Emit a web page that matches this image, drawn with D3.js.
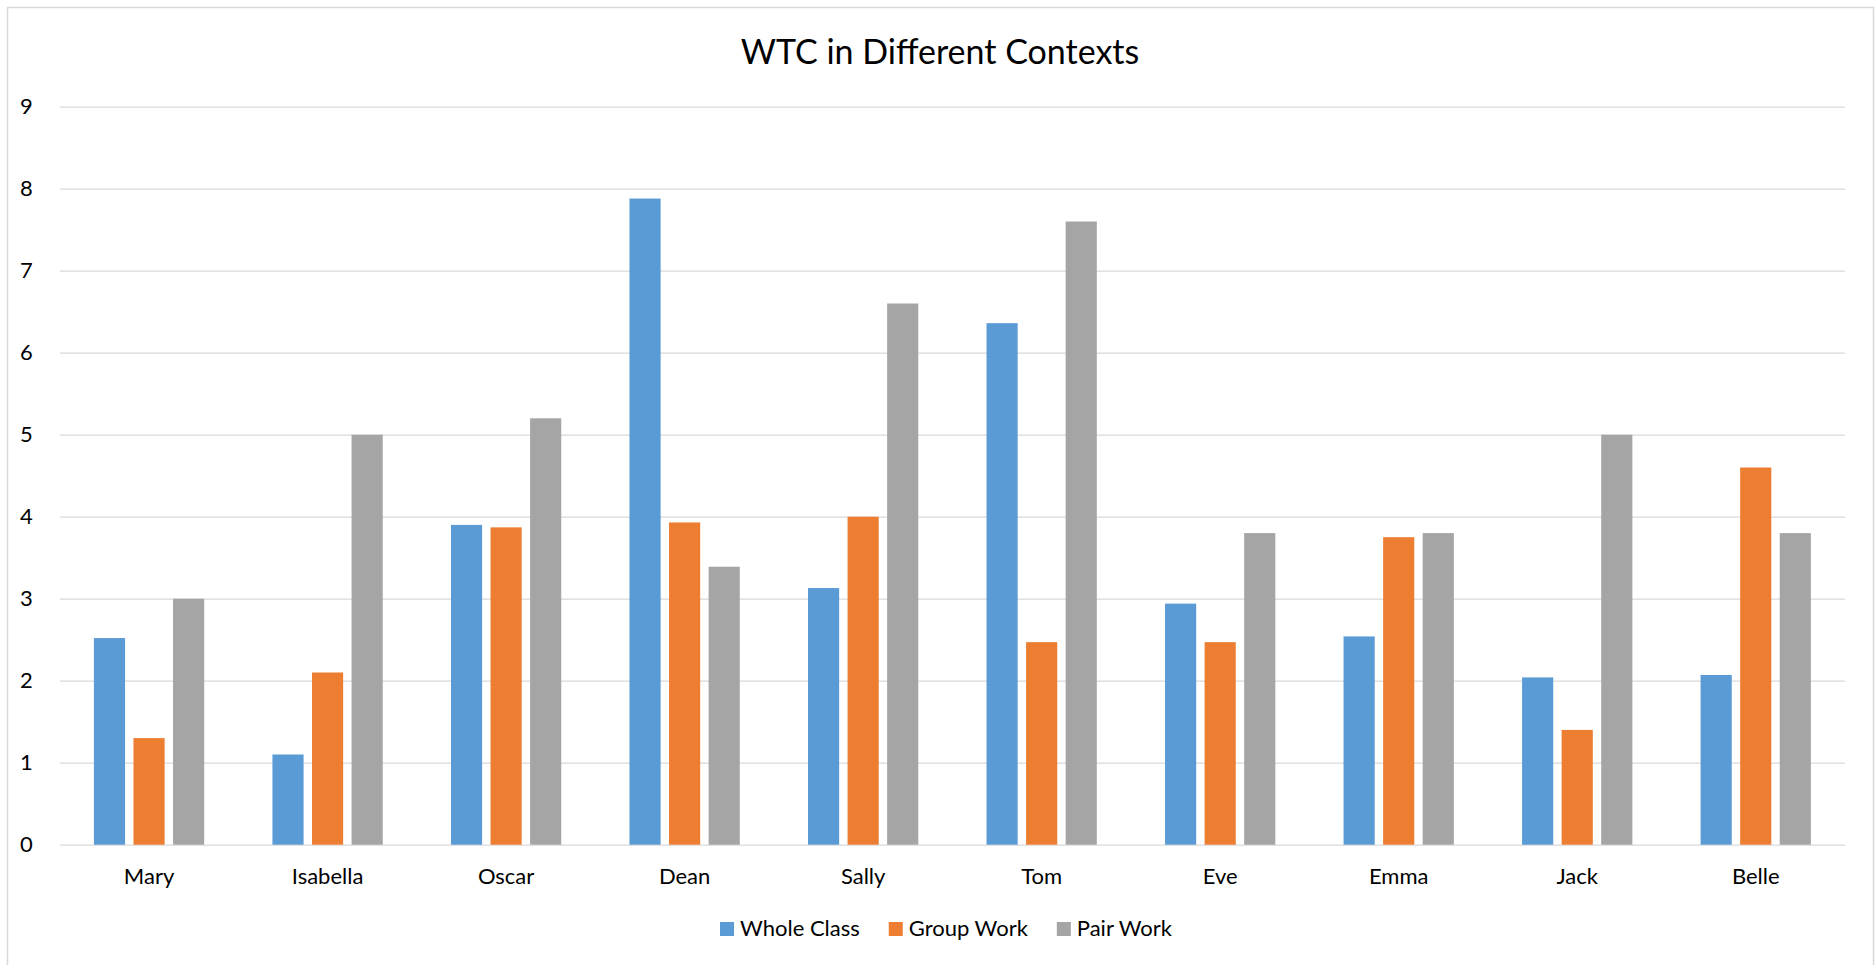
<!DOCTYPE html>
<html>
<head>
<meta charset="utf-8">
<script src="https://cdn.jsdelivr.net/npm/d3@7"></script>
<style>
  html, body { margin: 0; padding: 0; background: #fff; }
  svg { display: block; font-family: Lato, "Open Sans", sans-serif; }
</style>
</head>
<body>
<svg id="chart" width="1876" height="965"></svg>
<script>
// Students and the three participation contexts
const students = ["Mary", "Isabella", "Oscar", "Dean", "Sally", "Tom", "Eve", "Emma", "Jack", "Belle"];
const seriesNames = ["Whole Class", "Group Work", "Pair Work"];
const seriesColors = ["#5B9BD5", "#ED7D31", "#A5A5A5"];

// WTC scores per context
const wholeClass = [2.52, 1.1, 3.9, 7.88, 3.13, 6.36, 2.94, 2.54, 2.04, 2.07];
const groupWork  = [1.3, 2.1, 3.87, 3.93, 4.0, 2.47, 2.47, 3.75, 1.4, 4.6];
const pairWork   = [3.0, 5.0, 5.2, 3.39, 6.6, 7.6, 3.8, 3.8, 5.0, 3.8];

const yTicks = [0, 1, 2, 3, 4, 5, 6, 7, 8, 9];
const titleText = "WTC in Different Contexts";

const seriesValues = [wholeClass, groupWork, pairWork];

const svg = d3.select("#chart");

// chart frame
svg.append("rect")
  .attr("x", 7.5).attr("y", 7.5)
  .attr("width", 1866).attr("height", 1000)
  .attr("fill", "#fff")
  .attr("stroke", "#D9D9D9")
  .attr("stroke-width", 1.5);

const plot = { left: 59.8, right: 1845, top: 106.7, bottom: 844.7 };

const y = d3.scaleLinear().domain([0, 9]).range([plot.bottom, plot.top]);
const x0 = d3.scaleBand().domain(students).range([plot.left, plot.right]).padding(0);

// Excel-style gap width 219% and overlap -27%
const barW = x0.bandwidth() / (3 + 2 * 0.27 + 2.19);
const groupW = barW * (3 + 2 * 0.27);
const x1 = d3.scaleBand()
  .domain(d3.range(seriesNames.length))
  .range([(x0.bandwidth() - groupW) / 2, (x0.bandwidth() + groupW) / 2])
  .paddingInner(0.27 / 1.27)
  .paddingOuter(0);

// horizontal gridlines
const yAxis = d3.axisLeft(y).tickValues(yTicks).tickFormat(d3.format("d"))
  .tickSize(-(plot.right - plot.left)).tickPadding(27);
const gy = svg.append("g")
  .attr("transform", `translate(${plot.left},0)`)
  .call(yAxis);
gy.select(".domain").remove();
gy.selectAll(".tick line").attr("stroke", "#D9D9D9").attr("stroke-width", 1.3);
gy.selectAll(".tick text")
  .attr("fill", "#000")
  .style("font-size", "22px")
  .style("font-family", "Lato, 'Open Sans', sans-serif");

// bars
const groups = svg.append("g").selectAll("g")
  .data(students)
  .join("g")
  .attr("transform", d => `translate(${x0(d)},0)`);

groups.selectAll("rect")
  .data((d, i) => seriesValues.map((vals, s) => ({ s, v: vals[i] })))
  .join("rect")
  .attr("x", d => x1(d.s))
  .attr("width", x1.bandwidth())
  .attr("y", d => y(d.v))
  .attr("height", d => y(0) - y(d.v))
  .attr("fill", d => seriesColors[d.s]);

// category axis
const xAxis = d3.axisBottom(x0).tickSize(0).tickPadding(24);
const gx = svg.append("g")
  .attr("transform", `translate(0,${plot.bottom})`)
  .call(xAxis);
gx.select(".domain").remove();
gx.selectAll(".tick text")
  .attr("fill", "#000")
  .style("font-size", "22px")
  .style("font-family", "Lato, 'Open Sans', sans-serif");

// title
svg.append("text")
  .attr("x", 940).attr("y", 64)
  .attr("text-anchor", "middle")
  .attr("fill", "#000")
  .style("font-size", "34px")
  .text(titleText);

// legend
const legend = svg.append("g");
const items = legend.selectAll("g").data(seriesNames).join("g");
items.append("rect")
  .attr("width", 14).attr("height", 14)
  .attr("y", -14)
  .attr("fill", (d, i) => seriesColors[i]);
items.append("text")
  .attr("x", 20).attr("y", 0)
  .attr("fill", "#000")
  .style("font-size", "22px")
  .text(d => d);
let cursor = 0;
items.each(function () {
  const g = d3.select(this);
  g.attr("transform", `translate(${cursor},0)`);
  const w = 20 + g.select("text").node().getComputedTextLength();
  cursor += w + 29;
});
const legendW = cursor - 29;
legend.attr("transform", `translate(${946 - legendW / 2},936)`);
</script>
</body>
</html>
